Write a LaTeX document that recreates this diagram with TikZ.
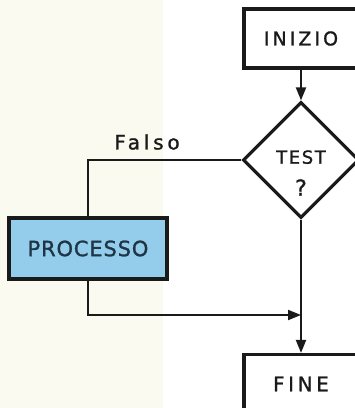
\documentclass[tikz,border=0pt]{standalone}
\usepackage{fontspec}
\usepackage{xcolor}
\usepackage{tikz}
\usetikzlibrary{arrows.meta,positioning,shapes.geometric}
\newfontfamily\lblfont[FakeBold=1.2]{DejaVu Sans}
\newcommand\lblsize[2]{\lblfont\addfontfeature{LetterSpace=#2}\fontsize{#1}{32}\selectfont}
\definecolor{cream}{HTML}{FBFAF0}
\definecolor{ink}{HTML}{1A1A1A}
\definecolor{procblue}{HTML}{94CDEB}
\definecolor{procink}{HTML}{1E3545}

\begin{document}
\begin{tikzpicture}[x=1pt,y=-1pt, every node/.style={font=\lblsize{19}{16},align=center,text=ink},
  box/.style={draw=ink,line width=3.2pt,minimum width=114pt,minimum height=59pt,inner sep=0pt},
  procbox/.style={box,fill=procblue,text=procink,minimum width=158pt,minimum height=61pt},
  dec/.style={diamond,draw=ink,line width=3.2pt,minimum width=116pt,minimum height=116pt,inner sep=0pt},
  a/.style={-{Triangle[length=13pt,width=10pt]},draw=ink,line width=2pt},
  l/.style={draw=ink,line width=2pt}]
  \useasboundingbox (0,0) rectangle (355,408);
  \fill[cream] (0,0) rectangle (163,408);
  % blocks
  \node[box] (ini) at (301,38.5) {INIZIO};
  \node[dec] (test) at (301,160) {};
  \node[font=\lblsize{18}{9}] (testlbl) at ([yshift=-13pt]test.center) {TEST\\{\fontsize{22}{32}\selectfont ?}};
  \node[procbox,font=\lblsize{21}{4}] (proc) at (88,248.5) {PROCESSO};
  \node[box,font=\lblsize{20}{18}] (fine) at (301,384) {FINE};
  \node[font=\lblsize{20}{19}] (falso) at (147,142) {Falso};
  \coordinate (join) at (301,315);
  % connectors
  \draw[a] (ini) -- (test);
  \draw[l] (test.west) -| (proc.north);
  \draw[a] (proc.south) |- (join);
  \draw[a] (test.south) -- (fine.north);
\end{tikzpicture}
\end{document}
